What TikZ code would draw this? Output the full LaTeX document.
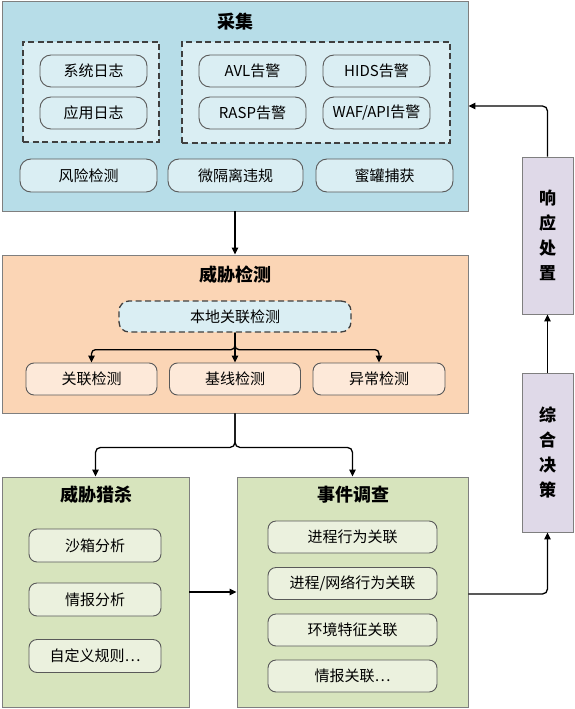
\documentclass[tikz,border=0pt]{standalone}
\usepackage{fontspec}
\setmainfont{Noto Sans CJK SC}
\usetikzlibrary{arrows.meta}
\definecolor{cblue}{HTML}{B7DDE8}
\definecolor{lblue}{HTML}{DAEEF3}
\definecolor{cpeach}{HTML}{FBD5B5}
\definecolor{lpeach}{HTML}{FDE9D9}
\definecolor{cgreen}{HTML}{D7E4BD}
\definecolor{lgreen}{HTML}{EBF1DE}
\definecolor{cpurple}{HTML}{DFD9E8}
\definecolor{bgray}{HTML}{7F7F7F}
\definecolor{pgray}{HTML}{595959}
\definecolor{dgray}{HTML}{3F3F3F}
\tikzset{
  bigbox/.style={draw=bgray, line width=0.9pt, inner sep=0pt, rectangle},
  dbox/.style={draw=dgray, line width=1.3pt, dash pattern=on 6pt off 3.5pt, fill=lblue, inner sep=0pt},
  pill/.style={draw=pgray, line width=0.9pt, rounded corners=11pt, inner sep=0pt, minimum height=32pt,
    font=\fontsize{15}{18}\selectfont},
  item/.style={draw=pgray, line width=0.9pt, rounded corners=8pt, inner sep=0pt, minimum height=32pt,
    font=\fontsize{15}{18}\selectfont},
  ttl/.style={font=\fontsize{18}{22}\selectfont\bfseries, inner sep=0pt},
  vtxt/.style={font=\fontsize{17}{25}\selectfont\bfseries, align=center, inner sep=0pt},
  conn/.style={line width=1.3pt, black, -{Triangle[length=7pt,width=6.5pt]}},
}
\begin{document}
\begin{tikzpicture}[x=1pt,y=-1pt]
\useasboundingbox (0,0) rectangle (575,709);
% ---------- 采集 ----------
\node[bigbox, fill=cblue, minimum width=466pt, minimum height=210pt] (collect) at (235,106) {};
\node[ttl] (tcollect) at (235,22) {采集};
\node[dbox, minimum width=136pt, minimum height=100pt] (dl) at (91,92) {};
\node[dbox, minimum width=268pt, minimum height=101pt] (dr) at (316,92.5) {};
\node[pill, fill=lblue, minimum width=107pt] (syslog) at (93.5,71) {系统日志};
\node[pill, fill=lblue, minimum width=107pt] (applog) at (93.5,113) {应用日志};
\node[pill, fill=lblue, minimum width=107pt] (avl) at (252.5,71) {AVL告警};
\node[pill, fill=lblue, minimum width=107pt] (hids) at (376.5,71) {HIDS告警};
\node[pill, fill=lblue, minimum width=107pt] (rasp) at (252.5,113) {RASP告警};
\node[pill, fill=lblue, minimum width=107pt] (waf) at (376.5,113) {WAF/API告警};
\node[pill, fill=lblue, minimum width=137pt, minimum height=33pt] (risk) at (88.5,175.5) {风险检测};
\node[pill, fill=lblue, minimum width=135pt, minimum height=33pt] (micro) at (235.5,175.5) {微隔离违规};
\node[pill, fill=lblue, minimum width=137pt, minimum height=33pt] (honey) at (384.5,175.5) {蜜罐捕获};
% ---------- 威胁检测 ----------
\node[bigbox, fill=cpeach, minimum width=466pt, minimum height=158pt] (detect) at (235,334) {};
\node[ttl] (tdetect) at (235,275) {威胁检测};
\node[item, dbox, rounded corners=10pt, font=\fontsize{15}{18}\selectfont, minimum width=232pt, minimum height=31pt] (local) at (235,316.5) {本地关联检测};
\node[item, fill=lpeach, minimum width=131pt] (c1) at (91.5,379) {关联检测};
\node[item, fill=lpeach, minimum width=131pt] (c2) at (235,379) {基线检测};
\node[item, fill=lpeach, minimum width=132pt] (c3) at (379,379) {异常检测};
% ---------- 威胁猎杀 ----------
\node[bigbox, fill=cgreen, minimum width=187pt, minimum height=230pt] (hunt) at (95.5,592) {};
\node[ttl] (thunt) at (96,495) {威胁猎杀};
\node[item, fill=lgreen, minimum width=132pt, minimum height=33pt] (h1) at (95,545.5) {沙箱分析};
\node[item, fill=lgreen, minimum width=132pt, minimum height=33pt] (h2) at (95,599.5) {情报分析};
\node[item, fill=lgreen, minimum width=132pt, minimum height=33pt] (h3) at (95,656) {自定义规则⋯};
% ---------- 事件调查 ----------
\node[bigbox, fill=cgreen, minimum width=231pt, minimum height=230pt] (invest) at (352.5,592) {};
\node[ttl] (tinvest) at (353,495) {事件调查};
\node[item, fill=lgreen, minimum width=169pt] (i1) at (352.5,537) {进程行为关联};
\node[item, fill=lgreen, minimum width=169pt] (i2) at (352.5,583.5) {进程/网络行为关联};
\node[item, fill=lgreen, minimum width=169pt] (i3) at (352.5,630) {环境特征关联};
\node[item, fill=lgreen, minimum width=169pt] (i4) at (352.5,676) {情报关联⋯};
% ---------- 右侧 ----------
\node[bigbox, fill=cpurple, minimum width=51pt, minimum height=157pt] (resp) at (547.5,235.5) {};
\node[vtxt] (tresp) at (547.5,235.5) {响\\应\\处\\置};
\node[bigbox, fill=cpurple, minimum width=51pt, minimum height=159pt] (decide) at (547.5,452.5) {};
\node[vtxt] (tdecide) at (547.5,452.5) {综\\合\\决\\策};
% ---------- connectors ----------
\draw[conn] (collect.south) -- (detect.north);
\draw[conn, rounded corners=4pt] (local.south) -- ++(0,17) -| (c1.north);
\draw[conn] (local.south) -- (c2.north);
\draw[conn, rounded corners=4pt] (local.south) -- ++(0,17) -| (c3.north);
\draw[conn, rounded corners=5pt] (detect.south) -- ++(0,34) -| (hunt.north);
\draw[conn, rounded corners=5pt] (detect.south) -- ++(0,34) -| (invest.north);
\draw[conn] (hunt.east) -- (invest.west);
\draw[conn, rounded corners=5pt] ([yshift=-2pt]invest.east) -| (decide.south);
\draw[conn] (decide.north) -- (resp.south);
\draw[conn, rounded corners=5pt] (resp.north) |- (collect.east);
\end{tikzpicture}
\end{document}
